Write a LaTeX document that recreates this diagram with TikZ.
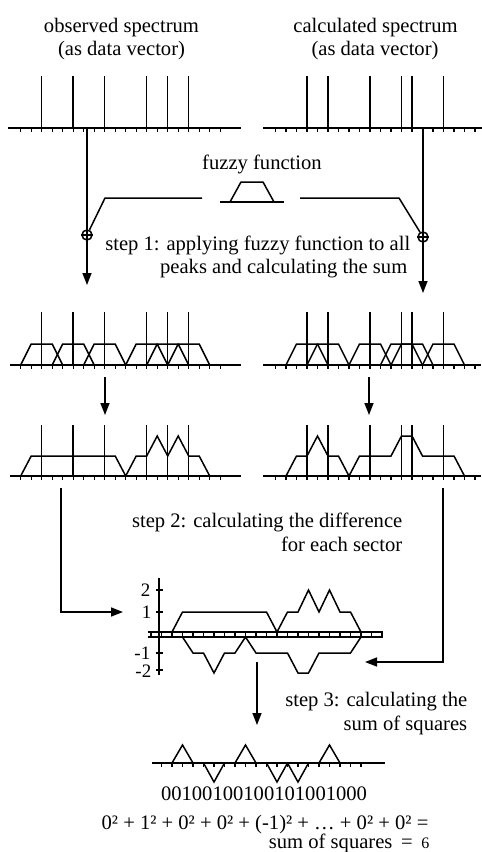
\documentclass[tikz,border=0pt]{standalone}
\usepackage{fontspec}
\setmainfont{Liberation Serif}
\usetikzlibrary{arrows.meta}
\begin{document}
\begin{tikzpicture}[x=1pt,y=-1pt,line width=1.5pt,
  lbl/.style={font=\fontsize{20.6}{24}\selectfont,inner sep=0pt},
  num/.style={font=\fontsize{19}{22}\selectfont,inner sep=0pt},
  tickmark/.style={line width=1.2pt},
  arr/.style={-{Triangle[length=12pt,width=9pt]}},
  marker/.style={circle,draw,line width=1.5pt,minimum size=10pt,inner sep=0pt}]
\useasboundingbox (0,0) rectangle (482,852);
% ---------------- texts ----------------
\node[lbl,anchor=base] (obs1) at (121.5,32) {observed spectrum};
\node[lbl,anchor=base] (obs2) at (121.5,55) {(as data vector)};
\node[lbl,anchor=base] (cal1) at (375.5,32) {calculated spectrum};
\node[lbl,anchor=base] (cal2) at (375,55) {(as data vector)};
\node[lbl,anchor=base] (fz) at (262,169) {fuzzy function};
\node[lbl,anchor=base east] (s1a) at (411,250) {step 1: applying fuzzy function to all};
\node[lbl,anchor=base east] (s1b) at (408,273) {peaks and calculating the sum};
\node[lbl,anchor=base east] (s2a) at (403,527) {step 2: calculating the difference};
\node[lbl,anchor=base east] (s2b) at (403,551) {for each sector};
\node[lbl,anchor=base east] (s3a) at (468,706) {step 3: calculating the};
\node[lbl,anchor=base east] (s3b) at (468,730) {sum of squares};
\node[lbl,anchor=base] (vec) at (264,800) {00100100100101001000};
\node[lbl,anchor=base] (eq) at (265,829) {0² + 1² + 0² + 0² + (-1)² + … + 0² + 0² =};
\node[lbl,anchor=base east] (sos) at (430,848) {sum of squares \,=\, {\fontsize{16}{18}\selectfont 6}};
\node[num,anchor=east] (y2) at (151,590) {2};
\node[num,anchor=east] (y1) at (152,612) {1};
\node[num,anchor=east] (ym1) at (151,653) {-1};
\node[num,anchor=east] (ym2) at (152,671) {-2};
% ---------------- fuzzy function ----------------
\draw (220,202) -- (284,202);
\draw (230,202) -- (241,182) -- (263,182) -- (274,202);
\node[marker] (c1) at (87,235) {};
\node[marker] (c2) at (423,237) {};
\draw (c1.west) -- (c1.east);
\draw (c2.west) -- (c2.east);
\coordinate (fl1) at (105,198); \coordinate (fl2) at (202,198);
\coordinate (fr1) at (300,198); \coordinate (fr2) at (399,198);
\draw (c1) -- (fl1) -- (fl2);
\draw (fr1) -- (fr2) -- (c2);
% ---------------- arrows ----------------
\coordinate (a1s) at (87,128);  \coordinate (a1e) at (87,285);
\coordinate (a2s) at (423,128); \coordinate (a2e) at (423,293);
\draw[arr] (a1s) -- (a1e);
\draw[arr] (a2s) -- (a2e);
\coordinate (m1s) at (105,377); \coordinate (m1e) at (105,415);
\coordinate (m2s) at (369,377); \coordinate (m2e) at (369,415);
\draw[arr] (m1s) -- (m1e);
\draw[arr] (m2s) -- (m2e);
\coordinate (l1) at (61,488); \coordinate (l2) at (61,612); \coordinate (l3) at (123,612);
\draw[arr] (l1) -- (l2) -- (l3);
\coordinate (r1) at (443,488); \coordinate (r2) at (443,662); \coordinate (r3) at (365,662);
\draw[arr] (r1) -- (r2) -- (r3);
\coordinate (d1) at (257,662); \coordinate (d2) at (257,725);
\draw[arr] (d1) -- (d2);
% ---------------- observed panels ----------------
\begin{scope}[xshift=20.7pt,x=10.5pt]
  \draw (-1.21,128) -- (21,128);
  \foreach \j in {0,...,19} \draw[tickmark] (\j,128) -- ++(0,4);
  \foreach \j in {2,5,8,12,14,16} \draw (\j,128) -- (\j,76);
  \draw (-1.02,365) -- (21,365);
  \foreach \j in {0,...,19} \draw[tickmark] (\j,365) -- ++(0,4);
  \foreach \j in {2,5,8,12,14,16} {
    \draw (\j,365) -- (\j,312);
    \draw (\j-2,365) -- (\j-1,344) -- (\j+1,344) -- (\j+2,365);
  }
  \draw (-1.02,476) -- (21,476);
  \foreach \j in {0,...,19} \draw[tickmark] (\j,476) -- ++(0,4);
  \foreach \j in {2,5,8,12,14,16} \draw (\j,476) -- (\j,425);
  \draw (0,476) -- (1,456) -- (9,456) -- (10,476) -- (11,456) -- (12,456) -- (13,436)
    -- (14,456) -- (15,436) -- (16,456) -- (17,456) -- (18,476);
\end{scope}
% ---------------- calculated panels ----------------
\begin{scope}[xshift=275.5pt,x=10.5pt]
  \draw (-1.19,128) -- (19.7,128);
  \foreach \j in {0,...,19} \draw[tickmark] (\j,128) -- ++(0,4);
  \foreach \j in {3,5,9,12,13,16} \draw (\j,128) -- (\j,76);
  \draw (-1.19,365) -- (19.6,365);
  \foreach \j in {0,...,19} \draw[tickmark] (\j,365) -- ++(0,4);
  \foreach \j in {3,5,9,12,13,16} {
    \draw (\j,365) -- (\j,312);
    \draw (\j-2,365) -- (\j-1,344) -- (\j+1,344) -- (\j+2,365);
  }
  \draw (-1.19,476) -- (19.6,476);
  \foreach \j in {0,...,19} \draw[tickmark] (\j,476) -- ++(0,4);
  \foreach \j in {3,5,9,12,13,16} \draw (\j,476) -- (\j,425);
  \draw (1,476) -- (2,456) -- (3,456) -- (4,436) -- (5,456) -- (6,456) -- (7,476)
    -- (8,456) -- (11,456) -- (12,436) -- (13,436) -- (14,456) -- (17,456) -- (18,476);
\end{scope}
% ---------------- difference plot ----------------
\begin{scope}[xshift=172pt,x=10.5pt]
  \draw (-1.24,578) -- (-1.24,675);
  \foreach \yy in {590,612,653,670} \draw (-1.55,\yy) -- (-0.9,\yy);
  \draw (-2.29,632) -- (20.1,632);
  \draw (-2.29,637) -- (20.1,637);
  \foreach \j in {-2,...,20} \draw[tickmark] (\j,632) -- (\j,637);
  \draw (0,632) -- (1,612) -- (9,612) -- (10,632) -- (11,612) -- (12,612) -- (13,590)
    -- (14,612) -- (15,590) -- (16,612) -- (17,612) -- (18,632);
  \draw (1,637) -- (2,653) -- (3,653) -- (4,673) -- (5,653) -- (6,653) -- (7,637)
    -- (8,653) -- (11,653) -- (12,673) -- (13,673) -- (14,653) -- (17,653) -- (18,637);
  % squared result
  \draw (-1.9,763) -- (20.3,763);
  \foreach \j in {-1,...,18} \draw[tickmark] (\j,763) -- ++(0,4);
  \foreach \j in {1,7,15} \draw (\j-1,763) -- (\j,745) -- (\j+1,763);
  \foreach \j in {4,10,12} \draw (\j-1,763) -- (\j,782) -- (\j+1,763);
\end{scope}
\end{tikzpicture}
\end{document}
